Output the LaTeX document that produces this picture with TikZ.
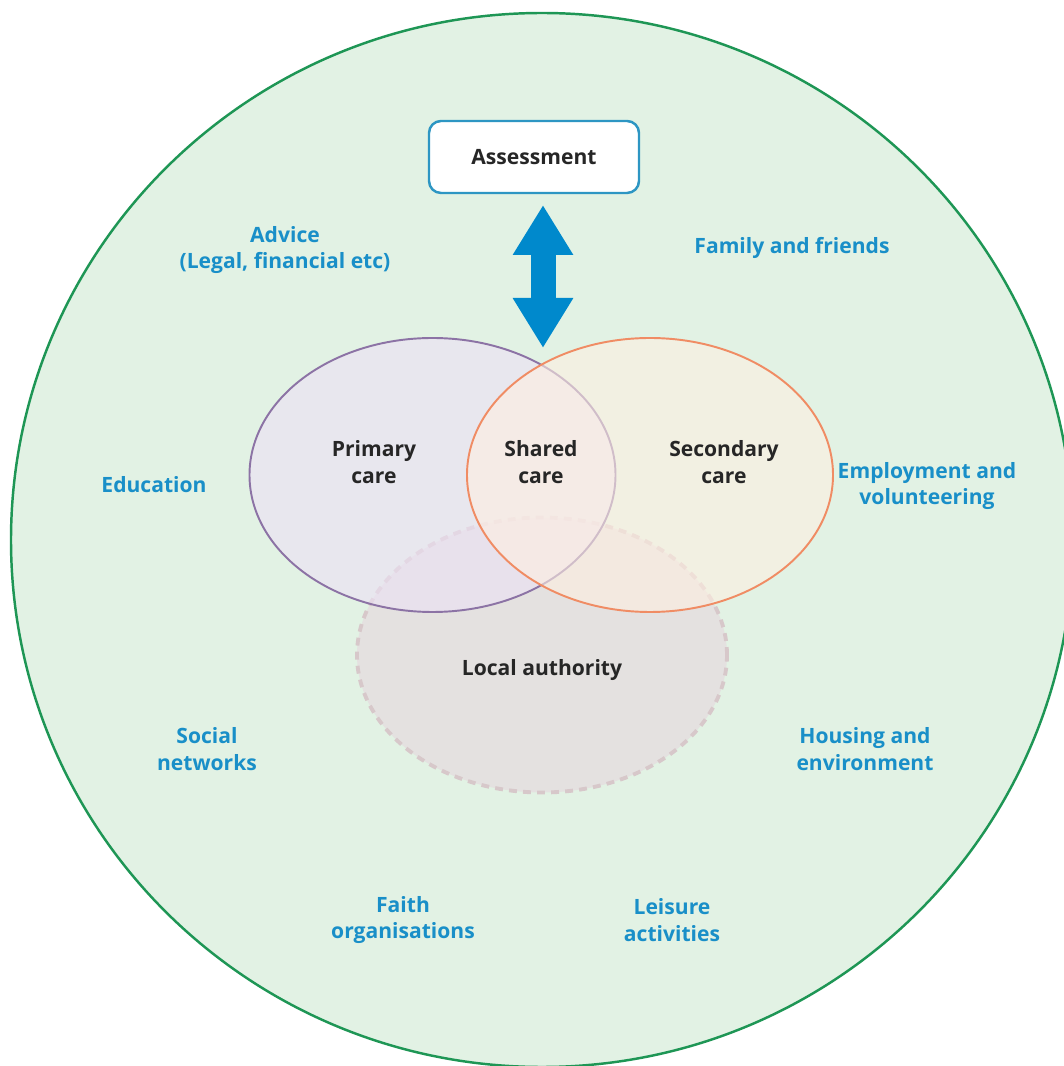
\documentclass[tikz,border=0pt]{standalone}
\usepackage{fontspec}
\setmainfont{Open Sans}
\usetikzlibrary{shapes.geometric,arrows.meta}
\definecolor{ringfill}{RGB}{226,242,228}
\definecolor{ringline}{RGB}{30,150,85}
\definecolor{itemblue}{RGB}{25,143,200}
\definecolor{boxline}{RGB}{45,150,195}
\definecolor{arrowblue}{RGB}{0,137,204}
\definecolor{primfill}{RGB}{236,225,245}
\definecolor{primline}{RGB}{140,115,165}
\definecolor{secfill}{RGB}{254,239,225}
\definecolor{secline}{RGB}{240,140,100}
\definecolor{lafill}{RGB}{228,225,224}
\definecolor{ladash}{RGB}{215,200,202}
\begin{document}
\begin{tikzpicture}[font=\bfseries\fontsize{12}{15.3}\selectfont,
                    item/.style = {text=itemblue, align=center},
                    care/.style = {text=black!85, align=center},
                    zone/.style = {ellipse, minimum width=7.32cm, minimum height=5.48cm, inner sep=0pt},
                    link/.style = {line width=0.5cm, arrowblue,
                                   {Triangle[width=1.14cm,length=1cm]}-{Triangle[width=1.14cm,length=1cm]}}]
                    \useasboundingbox (0,0) rectangle (21.26,21.32);
                    \draw[ringline, fill=ringfill, line width=1.4pt] (10.84,10.52) ellipse (10.62 and 10.54);

                    \node[zone, minimum width=7.4cm, minimum height=5.5cm, fill=lafill, draw=ladash,
                          line width=2.2pt, dash pattern=on 4.5pt off 3.5pt] (local) at (10.84,8.22) {};
                    \node[zone, fill=primfill, fill opacity=0.6, draw=primline, line width=1.1pt] (primary) at (8.65,11.82) {};
                    \node[zone, fill=secfill, fill opacity=0.6, draw=secline, line width=1.1pt] (secondary) at (13.0,11.82) {};

                    \node[draw=boxline, fill=white, line width=1.4pt, rounded corners=0.24cm,
                          minimum width=4.2cm, minimum height=1.44cm, text=black!85] (assess) at (10.68,18.18) {Assessment};
                    \coordinate (lift) at (10.86,17.22);
                    \coordinate (meet) at (10.86,14.36);
                    \draw[link] (lift) -- (meet);

                    \node[care] (primtext) at (7.48,12.08) {Primary\\care};
                    \node[care] (sharetext) at (10.82,12.08) {Shared\\care};
                    \node[care] (sectext) at (14.48,12.08) {Secondary\\care};
                    \node[care] (latext) at (10.84,7.92) {Local authority};

                    \node[item] (advice) at (5.7,16.32) {Advice\\(Legal, financial etc)};
                    \node[item] (family) at (15.84,16.36) {Family and friends};
                    \node[item] (education) at (3.08,11.62) {Education};
                    \node[item] (work) at (18.54,11.6) {Employment and\\volunteering};
                    \node[item] (social) at (4.14,6.34) {Social\\networks};
                    \node[item] (housing) at (17.3,6.34) {Housing and\\environment};
                    \node[item] (faith) at (8.06,2.92) {Faith\\organisations};
                    \node[item] (leisure) at (13.44,2.92) {Leisure\\activities};
                \end{tikzpicture}
\end{document}
